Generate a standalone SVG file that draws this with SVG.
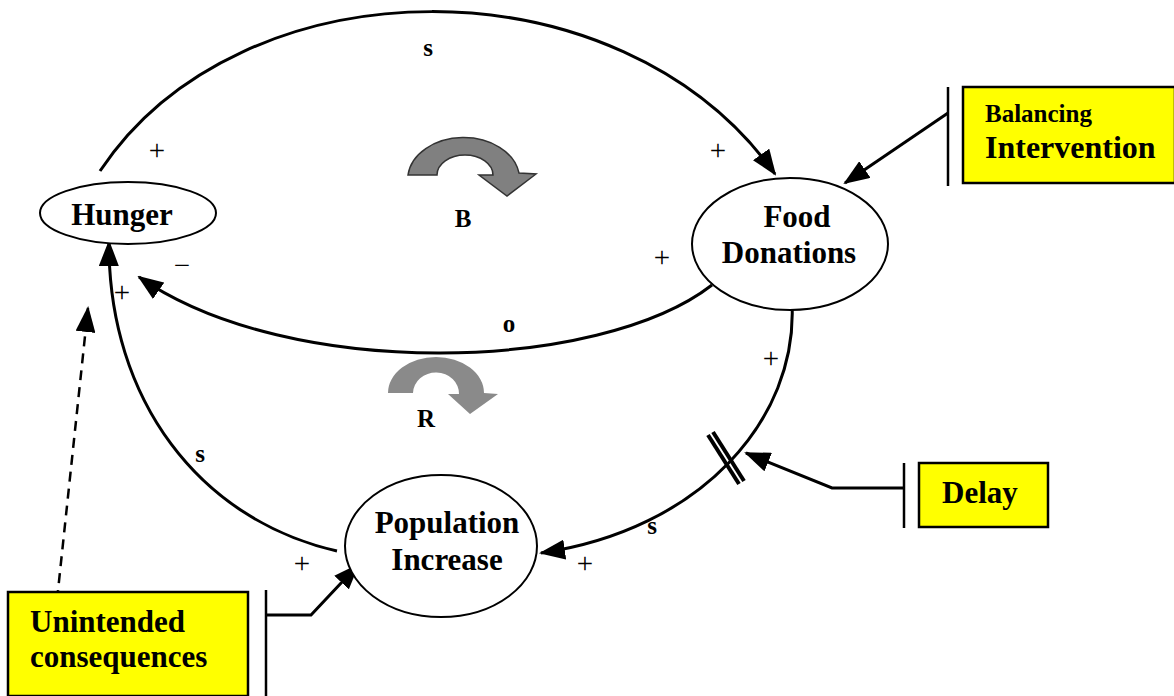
<svg xmlns="http://www.w3.org/2000/svg" width="1174" height="696" viewBox="0 0 1174 696">
<style>
.node{fill:#fff;stroke:#000;stroke-width:2}
.lbl{font-family:"Liberation Serif","Times New Roman",serif;font-weight:bold;font-size:31px;fill:#000;text-anchor:middle}
.box{fill:#ffff00;stroke:#000;stroke-width:2.5}
.btxt{font-family:"Liberation Serif","Times New Roman",serif;font-weight:bold;fill:#000}
.sm{font-family:"Liberation Serif","Times New Roman",serif;font-size:29px;fill:#000;text-anchor:middle}
.smb{font-family:"Liberation Serif","Times New Roman",serif;font-weight:bold;font-size:25px;fill:#000;text-anchor:middle}
.ln{fill:none;stroke:#000;stroke-width:3}
.bar{fill:none;stroke:#000;stroke-width:2.5}
</style>
<defs>
<marker id="ah" markerUnits="userSpaceOnUse" markerWidth="26" markerHeight="20" refX="24" refY="10" orient="auto">
<path d="M0,0 L26,10 L0,20 Z" fill="#000"/>
</marker>
</defs>
<rect width="1174" height="696" fill="#fff"/>

<g id="loops">
<path d="M408,175 A56,42 0 0 1 519,173 L536,174 L507,196 L479,175 L493,175 A28,20 0 0 0 437,175 Z" fill="#808080" stroke="#333" stroke-width="1.5"/>
<path d="M388,393 A48,36 0 0 1 484,393 L498,394 L470,414 L448,394 L459,394 A23,21 0 0 0 413,393 Z" fill="#8a8a8a"/>
</g>

<g id="connectors">
<path class="ln" d="M100,171 C240,-40 620,-44 775,174" marker-end="url(#ah)"/>
<path class="ln" d="M712,285 C600,372 290,382 139,277" marker-end="url(#ah)"/>
<path class="ln" d="M792,303 C798,420 700,530 541,553" marker-end="url(#ah)"/>
<path class="ln" d="M337,551 C200,520 108,400 109,242" marker-end="url(#ah)"/>
<path class="ln" d="M948,113 L845,183" marker-end="url(#ah)"/>
<path class="ln" d="M904,488 L832,488 L746,453" marker-end="url(#ah)"/>
<path class="ln" d="M266,615 L311,615 L358,565" marker-end="url(#ah)"/>
<path d="M57,600 L88,308" fill="none" stroke="#000" stroke-width="2.5" stroke-dasharray="10,7" marker-end="url(#ah)"/>
<g id="delay-mark">
<line x1="708" y1="435" x2="739" y2="484" stroke="#000" stroke-width="4"/>
<line x1="713" y1="432" x2="744" y2="481" stroke="#000" stroke-width="4"/>
</g>
</g>

<g id="hunger">
<ellipse class="node" cx="128" cy="213" rx="88" ry="31"/>
<text class="lbl" x="122" y="225">Hunger</text>
</g>
<g id="food-donations">
<ellipse class="node" cx="790" cy="244" rx="98" ry="66"/>
<text class="lbl" x="797" y="227">Food</text>
<text class="lbl" x="789" y="263">Donations</text>
</g>
<g id="population-increase">
<ellipse class="node" cx="441" cy="546" rx="96" ry="71"/>
<text class="lbl" x="447" y="533">Population</text>
<text class="lbl" x="447" y="570">Increase</text>
</g>

<g id="balancing-intervention">
<line class="bar" x1="948" y1="87" x2="948" y2="186"/>
<rect class="box" x="963" y="87" width="212" height="96"/>
<text class="btxt" x="985" y="122" font-size="25">Balancing</text>
<text class="btxt" x="985" y="158" font-size="32">Intervention</text>
</g>
<g id="delay">
<line class="bar" x1="904" y1="463" x2="904" y2="528"/>
<rect class="box" x="919" y="463" width="129" height="64"/>
<text class="btxt" x="942" y="503" font-size="31">Delay</text>
</g>
<g id="unintended-consequences">
<line class="bar" x1="266" y1="590" x2="266" y2="696"/>
<rect class="box" x="8" y="592" width="240" height="104"/>
<text class="btxt" x="30" y="632" font-size="31">Unintended</text>
<text class="btxt" x="30" y="667" font-size="31">consequences</text>
</g>

<g id="labels">
<text class="smb" x="428" y="56">s</text>
<text class="sm" x="157" y="160">+</text>
<text class="sm" x="718" y="160">+</text>
<text class="smb" x="463" y="227" font-size="26">B</text>
<text class="sm" x="662" y="267">+</text>
<text class="sm" x="182" y="275">−</text>
<text class="sm" x="122" y="302">+</text>
<text class="smb" x="509" y="332">o</text>
<text class="sm" x="771" y="368">+</text>
<text class="smb" x="426" y="427" font-size="27">R</text>
<text class="smb" x="200" y="462">s</text>
<text class="smb" x="652" y="534">s</text>
<text class="sm" x="302" y="573">+</text>
<text class="sm" x="585" y="573">+</text>
</g>
</svg>
